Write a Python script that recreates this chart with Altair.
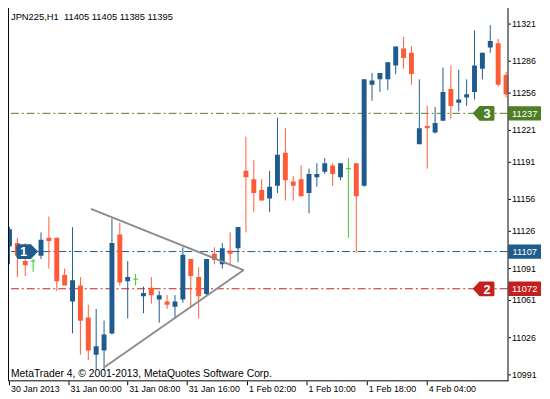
import altair as alt
import pandas as pd

# ---------------- data ----------------
opens  = [11112, 11115, 11098, 11098, 11103, 11120, 11120, 11085, 11060, 11075,
          11045, 11010, 11014, 11030, 11123, 11079, 11081, 11065, 11073, 11062,
          11060, 11055, 11062, 11100, 11083, 11067, 11105, 11095, 11108, 11110,
          11183, 11175, 11165, 11157, 11169, 11200, 11173, 11175, 11162, 11177,
          11182, 11188, 11177, 11185, 11190, 11169, 11264, 11269, 11269, 11282,
          11298, 11294, 11208, 11225, 11219, 11230, 11260, 11247, 11252, 11257,
          11279, 11299, 11303, 11273]
highs  = [11130, 11120, 11115, 11100, 11125, 11140, 11120, 11091, 11130, 11083,
          11057, 11053, 11042, 11138, 11134, 11098, 11086, 11074, 11083, 11070,
          11066, 11066, 11111, 11100, 11092, 11100, 11111, 11115, 11125, 11130,
          11215, 11193, 11175, 11183, 11233, 11223, 11178, 11188, 11185, 11190,
          11195, 11190, 11190, 11195, 11190, 11269, 11275, 11275, 11285, 11300,
          11309, 11300, 11269, 11244, 11243, 11280, 11282, 11278, 11269, 11315,
          11294, 11320, 11307, 11276]
lows   = [11095, 11083, 11084, 11088, 11100, 11091, 11070, 11075, 11030, 11010,
          11005, 10996, 10995, 11029, 11075, 11044, 11075, 11049, 11058, 11040,
          11053, 11044, 11059, 11055, 11044, 11065, 11095, 11091, 11095, 11097,
          11125, 11144, 11155, 11144, 11162, 11155, 11155, 11159, 11143, 11168,
          11180, 11169, 11174, 11120, 11106, 11168, 11249, 11257, 11259, 11274,
          11279, 11264, 11208, 11185, 11218, 11230, 11232, 11239, 11244, 11250,
          11269, 11294, 11262, 11252]
closes = [11128, 11103, 11094, 11098, 11118, 11117, 11079, 11075, 11080, 11042,
          11014, 11018, 11029, 11115, 11078, 11083, 11081, 11068, 11066, 11066,
          11057, 11060, 11104, 11084, 11065, 11100, 11099, 11110, 11105, 11130,
          11177, 11162, 11155, 11168, 11198, 11174, 11169, 11159, 11180, 11180,
          11190, 11180, 11190, 11185, 11159, 11269, 11268, 11275, 11285, 11300,
          11289, 11274, 11223, 11223, 11228, 11257, 11244, 11250, 11255, 11282,
          11294, 11305, 11264, 11255]

level_prices = [11107, 11072, 11237]
level_colors = ["#1d5c8c", "#c4201f", "#4f7f24"]

tag_labels = ["1", "2", "3"]
tag_x      = [2.25, 60.15, 60.15]
tag_prices = [11107, 11072, 11237]

tri_x1 = [10.34, 11.98]
tri_p1 = [11147.1, 10997.9]
tri_x2 = [29.71, 29.71]
tri_p2 = [11089.6, 11089.6]

y_ticks = [11321, 11286, 11256, 11221, 11191, 11156, 11126, 11091, 11061, 11026, 10991]
x_tick_pos = [0, 7.55, 15, 22.55, 30.2, 37.75, 45.4, 53]
x_tick_labels = ["30 Jan 2013", "31 Jan 00:00", "31 Jan 08:00", "31 Jan 16:00",
                 "1 Feb 02:00", "1 Feb 10:00", "1 Feb 18:00", "4 Feb 04:00"]

header_text = "JPN225,H1\u00a0\u00a011405 11405 11385 11395"
footer_text = "MetaTrader 4, \u00a9 2001-2013, MetaQuotes Software Corp."

# ---------------- styling ----------------
W, H = 507, 375
FONT = "Liberation Sans"
UP, DOWN, DOJI = "#1f5b8e", "#ff5a36", "#2ecc2e"
HALF = 0.3125

candles = pd.DataFrame({"i": list(range(len(opens))), "o": opens, "h": highs,
                        "l": lows, "c": closes})
candles["dir"] = ["up" if c > o else ("down" if c < o else "doji")
                  for o, c in zip(opens, closes)]
candles["x1"] = candles["i"] - HALF
candles["x2"] = candles["i"] + HALF

xs = alt.Scale(domain=[-0.1875, -0.1875 + W / 8], nice=False, zero=False)
ys = alt.Scale(domain=[10985.84, 11333.39], nice=False, zero=False)
cs = alt.Scale(domain=["up", "down", "doji"], range=[UP, DOWN, DOJI])

base = alt.Chart(candles)

levels_df = pd.DataFrame({"p": level_prices, "col": level_colors})
levels = alt.Chart(levels_df).mark_rule(strokeWidth=1, strokeDash=[8, 3, 2, 3]).encode(
    y=alt.Y("p:Q", scale=ys, axis=None),
    color=alt.Color("col:N", scale=None),
)

wicks = base.mark_rule(strokeWidth=1, clip=True).encode(
    x=alt.X("i:Q", scale=xs, axis=None),
    y=alt.Y("l:Q", scale=ys, axis=None),
    y2="h:Q",
    color=alt.Color("dir:N", scale=cs, legend=None),
)

bodies = base.transform_filter("datum.dir != 'doji'").mark_rect(clip=True).encode(
    x=alt.X("x1:Q", scale=xs, axis=None),
    x2="x2:Q",
    y=alt.Y("o:Q", scale=ys, axis=None),
    y2="c:Q",
    color=alt.Color("dir:N", scale=cs, legend=None),
)

dojis = base.transform_filter("datum.dir == 'doji'").mark_rule(strokeWidth=1, clip=True).encode(
    x=alt.X("x1:Q", scale=xs, axis=None),
    x2="x2:Q",
    y=alt.Y("o:Q", scale=ys, axis=None),
    color=alt.Color("dir:N", scale=cs, legend=None),
)

tri_df = pd.DataFrame({"x1": tri_x1, "p1": tri_p1, "x2": tri_x2, "p2": tri_p2})
triangle = alt.Chart(tri_df).mark_rule(strokeWidth=2, color="#8c8c8c").encode(
    x=alt.X("x1:Q", scale=xs, axis=None), x2="x2:Q",
    y=alt.Y("p1:Q", scale=ys, axis=None), y2="p2:Q",
)

TAG_RIGHT = "M -1 -0.45 Q -1 -0.68 -0.8 -0.68 L 0.34 -0.68 L 1 0 L 0.34 0.68 L -0.8 0.68 Q -1 0.68 -1 0.45 Z"
TAG_LEFT = "M -1 0 L -0.38 -0.68 L 0.9 -0.68 Q 1 -0.68 1 -0.55 L 1 0.55 Q 1 0.68 0.9 0.68 L -0.38 0.68 Z"
tags_df = pd.DataFrame({
    "t": tag_labels, "x": tag_x, "p": tag_prices,
    "col": level_colors,
    "shape": [TAG_RIGHT, TAG_LEFT, TAG_LEFT],
    "tx": [tag_x[0] - 0.45, tag_x[1] + 0.45, tag_x[2] + 0.45],
})
tags = alt.Chart(tags_df).mark_point(filled=True, opacity=1, strokeWidth=0, size=22 * 22).encode(
    x=alt.X("x:Q", scale=xs, axis=None),
    y=alt.Y("p:Q", scale=ys, axis=None),
    shape=alt.Shape("shape:N", scale=None),
    color=alt.Color("col:N", scale=None),
)
tag_text = alt.Chart(tags_df).mark_text(font=FONT, fontSize=13, fontWeight="bold",
                                        color="#ffffff", baseline="middle", dy=1).encode(
    x=alt.X("tx:Q", scale=xs, axis=None),
    y=alt.Y("p:Q", scale=ys, axis=None),
    text="t:N",
)

BOX = "M -1 -0.44 L 1 -0.44 L 1 0.44 L -1 0.44 Z"
boxes_df = pd.DataFrame({"p": level_prices, "col": level_colors,
                         "lab": [str(v) for v in level_prices]})
boxes = alt.Chart(boxes_df).mark_point(filled=True, opacity=1, strokeWidth=0,
                                       shape=BOX, size=33 * 33).encode(
    x=alt.value(W + 17.5),
    y=alt.Y("p:Q", scale=ys, axis=None),
    color=alt.Color("col:N", scale=None),
)
box_text = alt.Chart(boxes_df).mark_text(font=FONT, fontSize=9.5, color="#ffffff",
                                         baseline="middle", dy=0.5).encode(
    x=alt.value(W + 17.5),
    y=alt.Y("p:Q", scale=ys, axis=None),
    text="lab:N",
)

# ---- axes (frame, ticks and labels) ----
frame_df = pd.DataFrame({"k": [0]})
left_border = alt.Chart(frame_df).mark_rule(color="#000000", strokeWidth=1).encode(
    x=alt.value(0.5), y=alt.value(-4), y2=alt.value(H + 0.5)
)
right_border = alt.Chart(frame_df).mark_rule(color="#000000", strokeWidth=1).encode(
    x=alt.value(W + 0.5), y=alt.value(-4), y2=alt.value(H + 0.5)
)
bottom_border = alt.Chart(frame_df).mark_rule(color="#000000", strokeWidth=1).encode(
    x=alt.value(0), x2=alt.value(W + 1), y=alt.value(H + 0.5)
)

yt_df = pd.DataFrame({"v": y_ticks, "lab": [str(v) for v in y_ticks]})
y_tick_marks = alt.Chart(yt_df).mark_rule(color="#000000", strokeWidth=1).encode(
    x=alt.value(W + 1), x2=alt.value(W + 3.5),
    y=alt.Y("v:Q", scale=ys, axis=None),
)
y_labels = alt.Chart(yt_df).mark_text(font=FONT, fontSize=9, color="#000000",
                                      align="left", baseline="middle").encode(
    x=alt.value(W + 4.5),
    y=alt.Y("v:Q", scale=ys, axis=None),
    text="lab:N",
)

xt_df = pd.DataFrame({"p": x_tick_pos, "lab": x_tick_labels})
x_tick_marks = alt.Chart(xt_df).mark_rule(color="#000000", strokeWidth=1).encode(
    x=alt.X("p:Q", scale=xs, axis=None),
    y=alt.value(H + 1), y2=alt.value(H + 5),
)
x_labels = alt.Chart(xt_df).mark_text(font=FONT, fontSize=9, color="#000000",
                                      align="left", baseline="top", dx=1.5).encode(
    x=alt.X("p:Q", scale=xs, axis=None),
    y=alt.value(H + 4.5),
    text="lab:N",
)

header = alt.Chart(frame_df).mark_text(text=header_text, font=FONT, fontSize=9.5,
                                       align="left", baseline="alphabetic",
                                       color="#000000").encode(
    x=alt.value(3), y=alt.value(9)
)
footer = alt.Chart(frame_df).mark_text(text=footer_text, font=FONT, fontSize=10.5,
                                       align="left", baseline="alphabetic",
                                       color="#000000").encode(
    x=alt.value(3), y=alt.value(372)
)

chart = alt.layer(
    levels, wicks, bodies, dojis, triangle, tags, tag_text, boxes, box_text,
    left_border, right_border, bottom_border, y_tick_marks, y_labels,
    x_tick_marks, x_labels, header, footer
).properties(
    width=W, height=H,
    autosize=alt.AutoSizeParams(type="none"),
    padding={"left": 0, "top": 0, "right": 35, "bottom": 16},
    background="#ffffff",
).configure_view(stroke=None)

chart.save("out.html", embed_options={"renderer": "svg", "actions": False})
